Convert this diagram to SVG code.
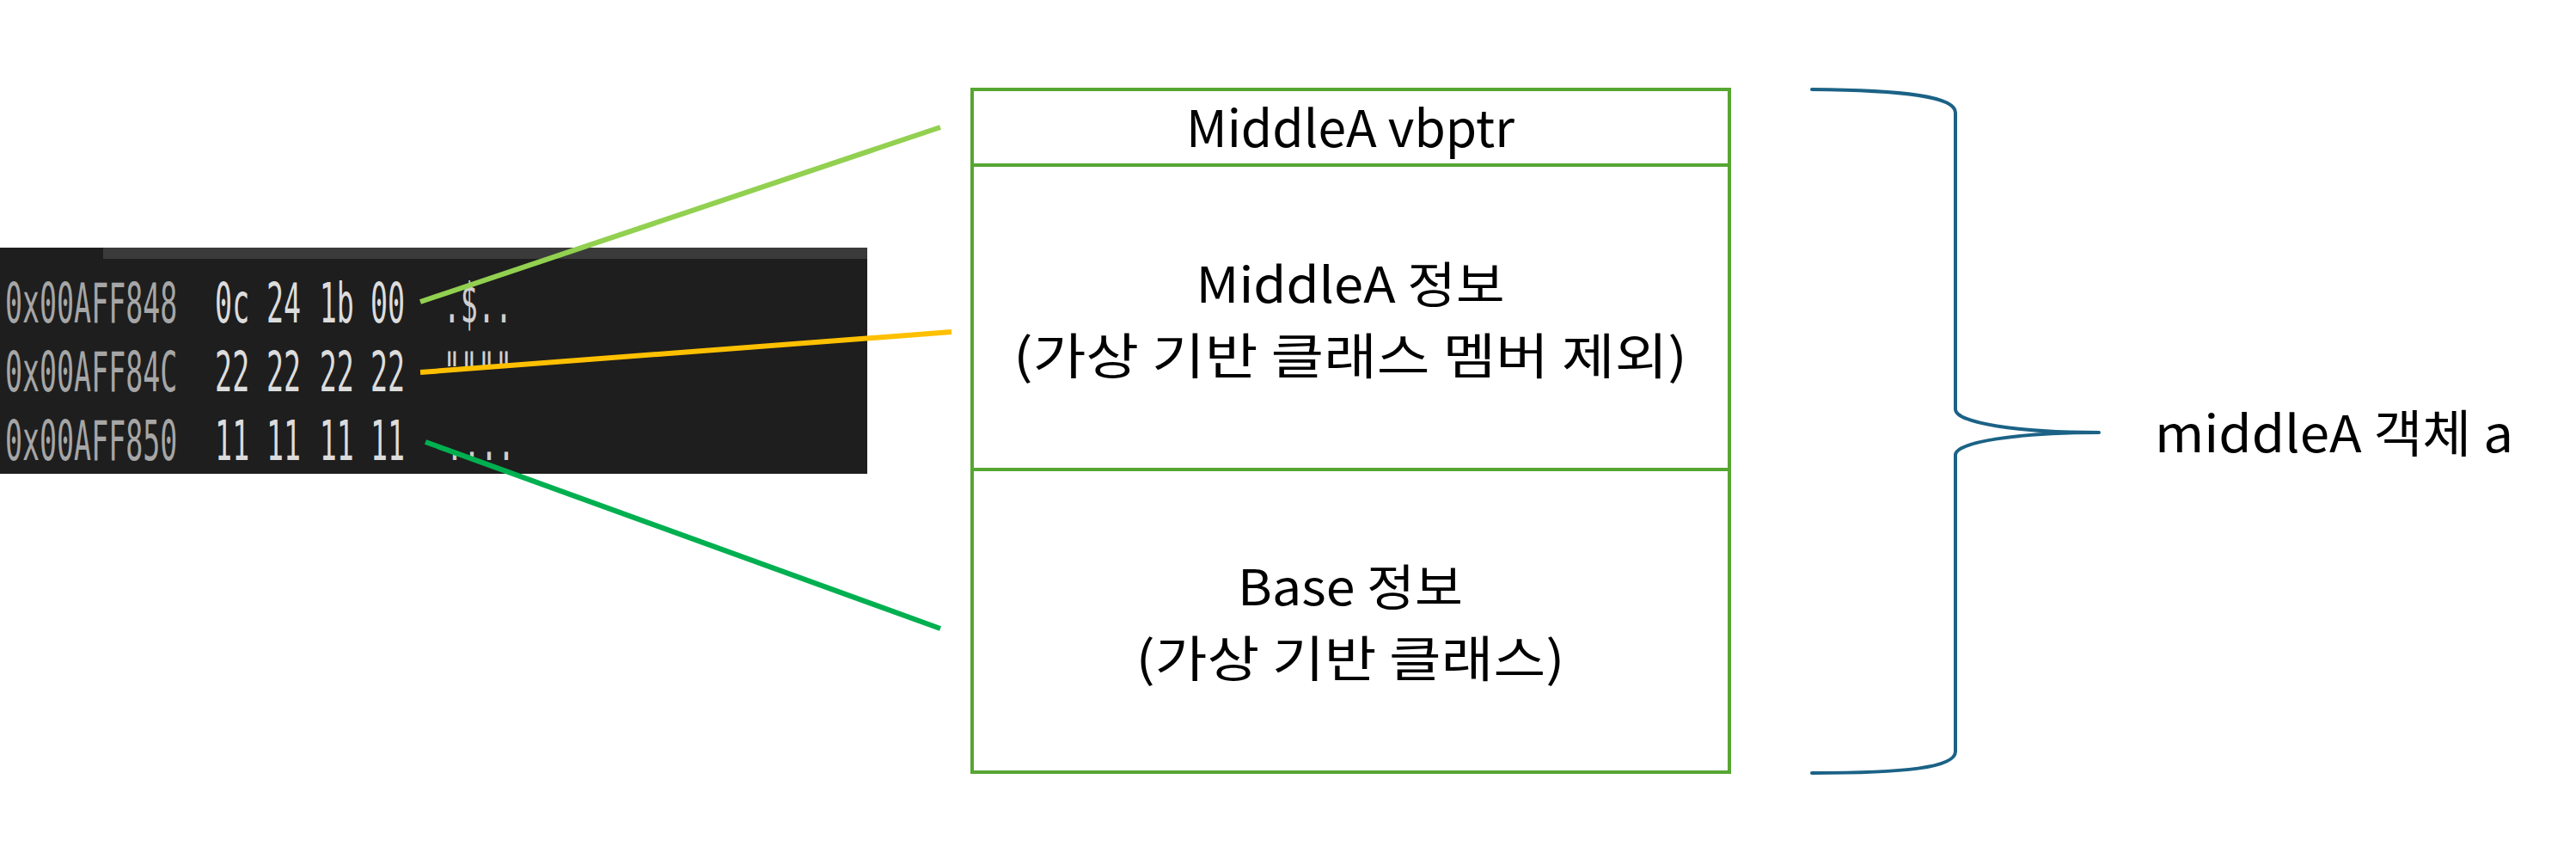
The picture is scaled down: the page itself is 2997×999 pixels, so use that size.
<svg xmlns="http://www.w3.org/2000/svg" width="2997" height="999" viewBox="0 0 2997 999">
<style>
.box{fill:none;stroke:#56A632;stroke-width:4}
.lbl{font-family:"Noto Sans CJK KR","Noto Sans",sans-serif;font-size:59px;fill:#000;text-anchor:middle}
.two{font-size:57px}
.mem{font-family:"DejaVu Sans Mono","Liberation Mono",monospace;font-size:64px}
.addr{fill:#A6A6A6}
.byte{fill:#DCDCDC}
.asc{fill:#CFCFCF}
.conn{fill:none;stroke-width:6;stroke-linecap:butt}
.brace{fill:none;stroke:#1B6286;stroke-width:4;stroke-linecap:round;stroke-linejoin:round}
</style>
<rect width="2997" height="999" fill="#FFFFFF"/>
<g id="memory-panel">
  <rect x="0" y="288" width="1009" height="263" fill="#1E1E1E"/>
  <rect x="120" y="288" width="889" height="13" fill="#3A3A3A"/>
  <g class="mem" transform="scale(0.52,1)">
    <text class="addr" x="11.5" y="375">0x00AFF848</text>
    <text class="byte" x="481" y="375">0c</text>
    <text class="byte" x="596" y="375">24</text>
    <text class="byte" x="715" y="375">1b</text>
    <text class="byte" x="829" y="375">00</text>
    <text class="asc" x="992" y="375">.$..</text>
    <text class="addr" x="11.5" y="455">0x00AFF84C</text>
    <text class="byte" x="481" y="455">22</text>
    <text class="byte" x="596" y="455">22</text>
    <text class="byte" x="715" y="455">22</text>
    <text class="byte" x="829" y="455">22</text>
    <text class="asc" x="992" y="455">""""</text>
    <text class="addr" x="11.5" y="535">0x00AFF850</text>
    <text class="byte" x="481" y="535">11</text>
    <text class="byte" x="596" y="535">11</text>
    <text class="byte" x="715" y="535">11</text>
    <text class="byte" x="829" y="535">11</text>
    <text class="asc" x="998" y="535">....</text>
  </g>
</g>
<g id="connectors">
  <line class="conn" x1="489" y1="351" x2="1094" y2="148" stroke="#92D050"/>
  <line class="conn" x1="489" y1="433" x2="1107" y2="386" stroke="#FFC000"/>
  <line class="conn" x1="495" y1="514" x2="1094" y2="731" stroke="#00B050"/>
</g>
<g id="vbptr">
  <rect class="box" x="1131" y="104" width="881" height="88"/>
  <text class="lbl" x="1571" y="171" textLength="382" lengthAdjust="spacingAndGlyphs">MiddleA vbptr</text>
</g>
<g id="middlea-info">
  <rect class="box" x="1131" y="192" width="881" height="354"/>
  <text class="lbl two"><tspan x="1571" y="352" textLength="359" lengthAdjust="spacingAndGlyphs">MiddleA 정보</tspan><tspan x="1571" y="435" textLength="784" lengthAdjust="spacingAndGlyphs">(가상 기반 클래스 멤버 제외)</tspan></text>
</g>
<g id="base-info">
  <rect class="box" x="1131" y="546" width="881" height="352"/>
  <text class="lbl two"><tspan x="1571" y="704" textLength="262" lengthAdjust="spacingAndGlyphs">Base 정보</tspan><tspan x="1571" y="787" textLength="499" lengthAdjust="spacingAndGlyphs">(가상 기반 클래스)</tspan></text>
</g>
<g id="brace">
  <path class="brace" d="M2108,104 C2215,105 2275,112 2275,131 L2275,476 C2275,492 2348,503 2442,503 C2348,503 2275,514 2275,529 L2275,874 C2275,893 2215,899 2108,899"/>
  <text class="lbl" x="2507" y="526" style="text-anchor:start" textLength="417" lengthAdjust="spacingAndGlyphs">middleA 객체 a</text>
</g>
</svg>
